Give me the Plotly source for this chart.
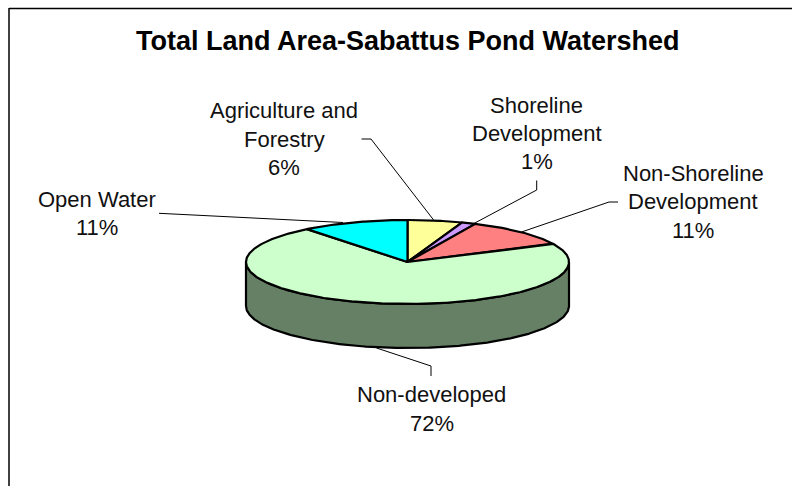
import numpy as np
import plotly.graph_objects as go

# Data, clockwise from 12 o'clock
categories = ["Agriculture and Forestry", "Shoreline Development",
              "Non-Shoreline Development", "Non-developed", "Open Water"]
values = [5.5, 1.4, 10.9, 71.5, 10.7]
percent_labels = ["6%", "1%", "11%", "72%", "11%"]
colors = ["#FFFF99", "#CC99FF", "#FF8080", "#CCFFCC", "#00FFFF"]
side_color = "#668066"
title_text = "Total Land Area-Sabattus Pond Watershed"

# Pie geometry (pixels)
CX, CY, RX, RY, DEPTH = 407.5, 262.0, 161.5, 42.0, 44.0
LW = 2.2


def rim(start, end, dy=0.0):
    t = np.radians(np.arange(start, end, 0.5).tolist() + [end])
    return CX + RX * np.sin(t), CY + dy - RY * np.cos(t)


fig = go.Figure()

# Front wall of the disc
xa, ya = rim(90, 270)
xb, yb = rim(90, 270, DEPTH)
fig.add_trace(go.Scatter(
    x=np.r_[xa, xb[::-1], xa[0]], y=np.r_[ya, yb[::-1], ya[0]],
    mode="lines", fill="toself", fillcolor=side_color,
    line=dict(color="black", width=LW), hoverinfo="skip"))

# Top face wedges
edges = np.cumsum([0] + values) / sum(values) * 360
for name, color, a, b in zip(categories, colors, edges[:-1], edges[1:]):
    x, y = rim(a, b)
    fig.add_trace(go.Scatter(
        x=np.r_[CX, x, CX], y=np.r_[CY, y, CY], name=name,
        mode="lines", fill="toself", fillcolor=color,
        line=dict(color="black", width=LW)))

# Label layout: centre x, y per line, and leader polyline
label_lines = [
    (284, [("Agriculture and", 110), ("Forestry", 139), (percent_labels[0], 167)],
     [(361.5, 139), (371, 139), (434, 220.5)]),
    (536.5, [("Shoreline", 105), ("Development", 133), (percent_labels[1], 161)],
     [(536.7, 180.5), (536.7, 190), (473, 224)]),
    (693, [("Non-Shoreline", 173), ("Development", 201), (percent_labels[2], 230)],
     [(618, 202), (609, 202), (521.5, 232)]),
    (97, [("Open Water", 199), (percent_labels[4], 227)],
     [(159, 213.3), (343, 222.5)]),
    (431.5, [("Non-developed", 394), (percent_labels[3], 423)],
     [(431, 376), (431, 366), (376.5, 348)]),
]

for cx, lines, leader in label_lines:
    for text, y in lines:
        fig.add_annotation(x=cx, y=y, text=text, showarrow=False,
                           xanchor="center", yanchor="middle",
                           font=dict(family="Liberation Sans", size=22, color="#111111"))
    fig.add_trace(go.Scatter(x=[p[0] for p in leader], y=[p[1] for p in leader],
                             mode="lines", line=dict(color="black", width=1),
                             hoverinfo="skip"))

fig.add_annotation(x=408, y=41, text=f"<b>{title_text}</b>", showarrow=False,
                   xanchor="center", yanchor="middle",
                   font=dict(family="Liberation Sans", size=27, color="black"))

# Chart frame (top and left edges only)
fig.add_shape(type="line", x0=9, x1=792, y0=8.5, y1=8.5, line=dict(color="black", width=1.5))
fig.add_shape(type="line", x0=9, x1=9, y0=8, y1=486, line=dict(color="black", width=1.5))

fig.update_layout(
    width=792, height=486, margin=dict(l=0, r=0, t=0, b=0),
    paper_bgcolor="white", plot_bgcolor="white", showlegend=False,
    xaxis=dict(range=[0, 792], visible=False, fixedrange=True),
    yaxis=dict(range=[486, 0], visible=False, fixedrange=True),
)
fig.write_html("out.html", config={"displayModeBar": False},
               post_script="document.body.style.margin='0';document.body.style.overflow='hidden';")
